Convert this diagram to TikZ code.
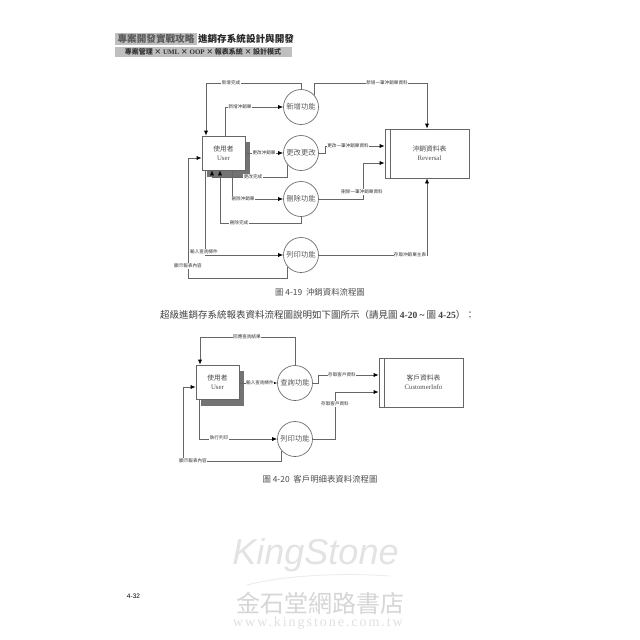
\documentclass[tikz,border=0pt]{standalone}
\usepackage{fontspec}
\setmainfont{Liberation Serif}
\setsansfont{Liberation Sans}
\newfontfamily\cjk{Noto Sans CJK TC}
\usetikzlibrary{arrows.meta}

\tikzset{
  flow/.style={draw=black!60,line width=0.65pt,-{Latex[length=5pt,width=4pt,black]}},
  flowlabel/.style={fill=white,inner sep=0.4pt,text=black!80,font=\cjk\fontsize{4.6}{5}\selectfont},
  process/.style={circle,draw=black!60,line width=0.65pt,minimum size=35pt,inner sep=0pt,text=black!65,font=\cjk\fontsize{7.3}{8}\selectfont},
  actor/.style={rectangle,draw=black!60,fill=white,line width=0.65pt,minimum width=43pt,minimum height=34pt,inner sep=0pt,align=center,text=black!70,font=\cjk\fontsize{6.8}{8.8}\selectfont},
  actorshadow/.style={rectangle,fill=black!55,minimum width=43pt,minimum height=35pt,inner sep=0pt},
  tablebar/.style={rectangle,draw=black!60,line width=0.65pt,minimum width=5pt,inner sep=0pt},
  tablebody/.style={rectangle,draw=black!60,line width=0.65pt,minimum width=79pt,inner sep=0pt,align=center,text=black!70,font=\cjk\fontsize{6.8}{8.8}\selectfont},
  caption/.style={inner sep=0pt,text=black!70,font=\cjk\fontsize{8.4}{9}\selectfont},
}

\begin{document}
\begin{tikzpicture}[x=1pt,y=-1pt]
      \useasboundingbox[fill=white] (0,0) rectangle (640,640);

      % page header
      \node[rectangle,fill=black!25,minimum width=82pt,minimum height=12pt,inner sep=0pt] (bandtop) at (156,39) {};
      \node[rectangle,fill=black!25,minimum width=177pt,minimum height=10pt,inner sep=0pt] (bandsub) at (203.5,52) {};
      \node[inner sep=0pt,text=black!65,font=\cjk\bfseries\fontsize{9.6}{10}\selectfont] (booktitle) at (156,39) {專案開發實戰攻略};
      \node[inner sep=0pt,text=black!85,font=\cjk\bfseries\fontsize{9.6}{10}\selectfont] (booksub) at (246,39) {進銷存系統設計與開發};
      \node[inner sep=0pt,text=black!80,font=\cjk\bfseries\fontsize{7}{8}\selectfont] (bookline) at (203,52) {專案管理 × {\rmfamily UML} × {\rmfamily OOP} × 報表系統 × 設計模式};

      % first diagram
      \begin{scope}
        \node[actorshadow] (user1s) at (228.5,159.5) {};
        \node[actor] (user1) at (223.5,153) {使用者\\{\rmfamily User}};
        \node[process] (add) at (301,107) {新增功能};
        \node[process] (edit) at (301,153) {更改更改};
        \node[process] (del) at (301,199) {刪除功能};
        \node[process] (print1) at (301,255) {列印功能};
        \node[tablebar,minimum height=49pt] (table1b) at (387.5,153.5) {};
        \node[tablebody,minimum height=49pt] (table1) at (429.5,153.5) {沖銷資料表\\{\rmfamily Reversal}};
      \end{scope}

      \begin{scope}
        \coordinate (c1) at (206,83);
        \coordinate (c2) at (225,107);
        \coordinate (c3) at (427,83);
        \coordinate (c4) at (212,177);
        \coordinate (c5) at (232,199);
        \coordinate (c6) at (220,223);
        \coordinate (c7) at (205,255);
        \coordinate (c8) at (188,278);
        \coordinate (c9) at (188,158);
        \coordinate (c10) at (325,146);
        \coordinate (c11) at (363,163);
        \coordinate (c12) at (427,255);

        \draw[flow] (add.north) |- (c1) -- (user1.north -| c1);
        \draw[flow] (user1.north -| c2) -- (c2) -- (add.west);
        \draw[flow] (add.42) |- (c3) -- (table1.north -| c3);
        \draw[flow] (user1.east) -- (edit.west);
        \draw[flow] (edit.222) |- (c4) -- (user1.south -| c4);
        \draw[flow] (user1.south -| c5) -- (c5) -- (del.west);
        \draw[flow] (del.south) |- (c6) -- (user1.south -| c6);
        \draw[flow] (user1.south -| c7) -- (c7) -- (print1.west);
        \draw[flow] (print1.222) |- (c8) -- (c9) -- (user1.west |- c9);
        \draw[flow] (edit.east) -| (c10) -- (table1b.west |- c10);
        \draw[flow] (del.east) -| (c11) -- (table1b.west |- c11);
        \draw[flow] (print1.east) -- (c12) -- (table1.south -| c12);
      \end{scope}

      \begin{scope}[every node/.style={flowlabel}]
        \node[] (l1) at (231,83) {新增完成};
        \node[] (l2) at (240,107) {新增沖銷單};
        \node[] (l3) at (387,83) {新增一筆沖銷單資料};
        \node[] (l4) at (264,153) {更改沖銷單};
        \node[] (l5) at (253,177) {更改完成};
        \node[] (l6) at (243,199) {刪除沖銷單};
        \node[] (l7) at (239,223) {刪除完成};
        \node[] (l8) at (204,252) {輸入查詢條件};
        \node[] (l9) at (188,266) {顯示報表內容};
        \node[] (l10) at (348,146) {更改一筆沖銷單資料};
        \node[] (l11) at (362,192) {刪除一筆沖銷單資料};
        \node[] (l12) at (410,255) {存取沖銷單主表};
      \end{scope}

      \node[caption] (cap1) at (320,292) {圖 4-19\ \ 沖銷資料流程圖};
      \node[inner sep=0pt,text=black!75,font=\cjk\fontsize{9.5}{11}\selectfont] (para) at (317.5,315) {超級進銷存系統報表資料流程圖說明如下圖所示（請見圖 {\rmfamily\bfseries 4-20 \textasciitilde{}} 圖 {\rmfamily\bfseries 4-25}）：};

      % second diagram
      \begin{scope}
        \node[actorshadow] (user2s) at (222.5,388) {};
        \node[actor] (user2) at (217.5,382) {使用者\\{\rmfamily User}};
        \node[process] (query) at (295,383) {查詢功能};
        \node[process] (print2) at (295,439) {列印功能};
        \node[tablebar,minimum height=49pt] (table2b) at (381.5,382.5) {};
        \node[tablebody,minimum height=49pt] (table2) at (423.5,382.5) {客戶資料表\\{\rmfamily CustomerInfo}};
      \end{scope}

      \begin{scope}
        \coordinate (d1) at (200,337);
        \coordinate (d2) at (318,375);
        \coordinate (d3) at (335,392);
        \coordinate (d4) at (199,439);
        \coordinate (d5) at (183,461);
        \coordinate (d6) at (183,387);

        \draw[flow] (query.north) |- (d1) -- (user2.north -| d1);
        \draw[flow] (user2.east |- query) -- (query.west);
        \draw[flow] (query.east) -| (d2) -- (table2b.west |- d2);
        \draw[flow] (print2.east) -| (d3) -- (table2b.west |- d3);
        \draw[flow] (user2.south -| d4) -- (d4) -- (print2.west);
        \draw[flow] (print2.222) |- (d5) -- (d6) -- (user2.west |- d6);
      \end{scope}

      \begin{scope}[every node/.style={flowlabel}]
        \node[] (m1) at (247,337) {回應查詢結果};
        \node[] (m2) at (260,383) {輸入查詢條件};
        \node[] (m3) at (342,375) {存取客戶資料};
        \node[] (m4) at (335,404) {存取客戶資料};
        \node[] (m5) at (219,438) {執行列印};
        \node[] (m6) at (193,461) {顯示報表內容};
      \end{scope}

      \node[caption] (cap2) at (320,479) {圖 4-20\ \ 客戶明細表資料流程圖};

      % page number and watermark
      \node[inner sep=0pt,font=\sffamily\fontsize{6.5}{8}\selectfont] (pageno) at (133.5,596) {4-32};
      \node[inner sep=0pt,text=black!11,font=\sffamily\itshape\fontsize{36}{40}\selectfont] (wmname) at (315.5,555) {KingStone};
      \coordinate (w1) at (247,585);
      \coordinate (w2) at (390,576);
      \draw[black!8,line width=0.8pt] (w1) .. controls (290,574) and (350,573) .. (w2);
      \node[inner sep=0pt,text=black!16,font=\cjk\fontsize{24}{26}\selectfont] (wmshop) at (320,603) {金石堂網路書店};
      \node[inner sep=0pt,text=black!12,font=\rmfamily\fontsize{14}{15}\selectfont\addfontfeature{LetterSpace=14}] (wmurl) at (318,623) {www.kingstone.com.tw};
    \end{tikzpicture}
\end{document}
